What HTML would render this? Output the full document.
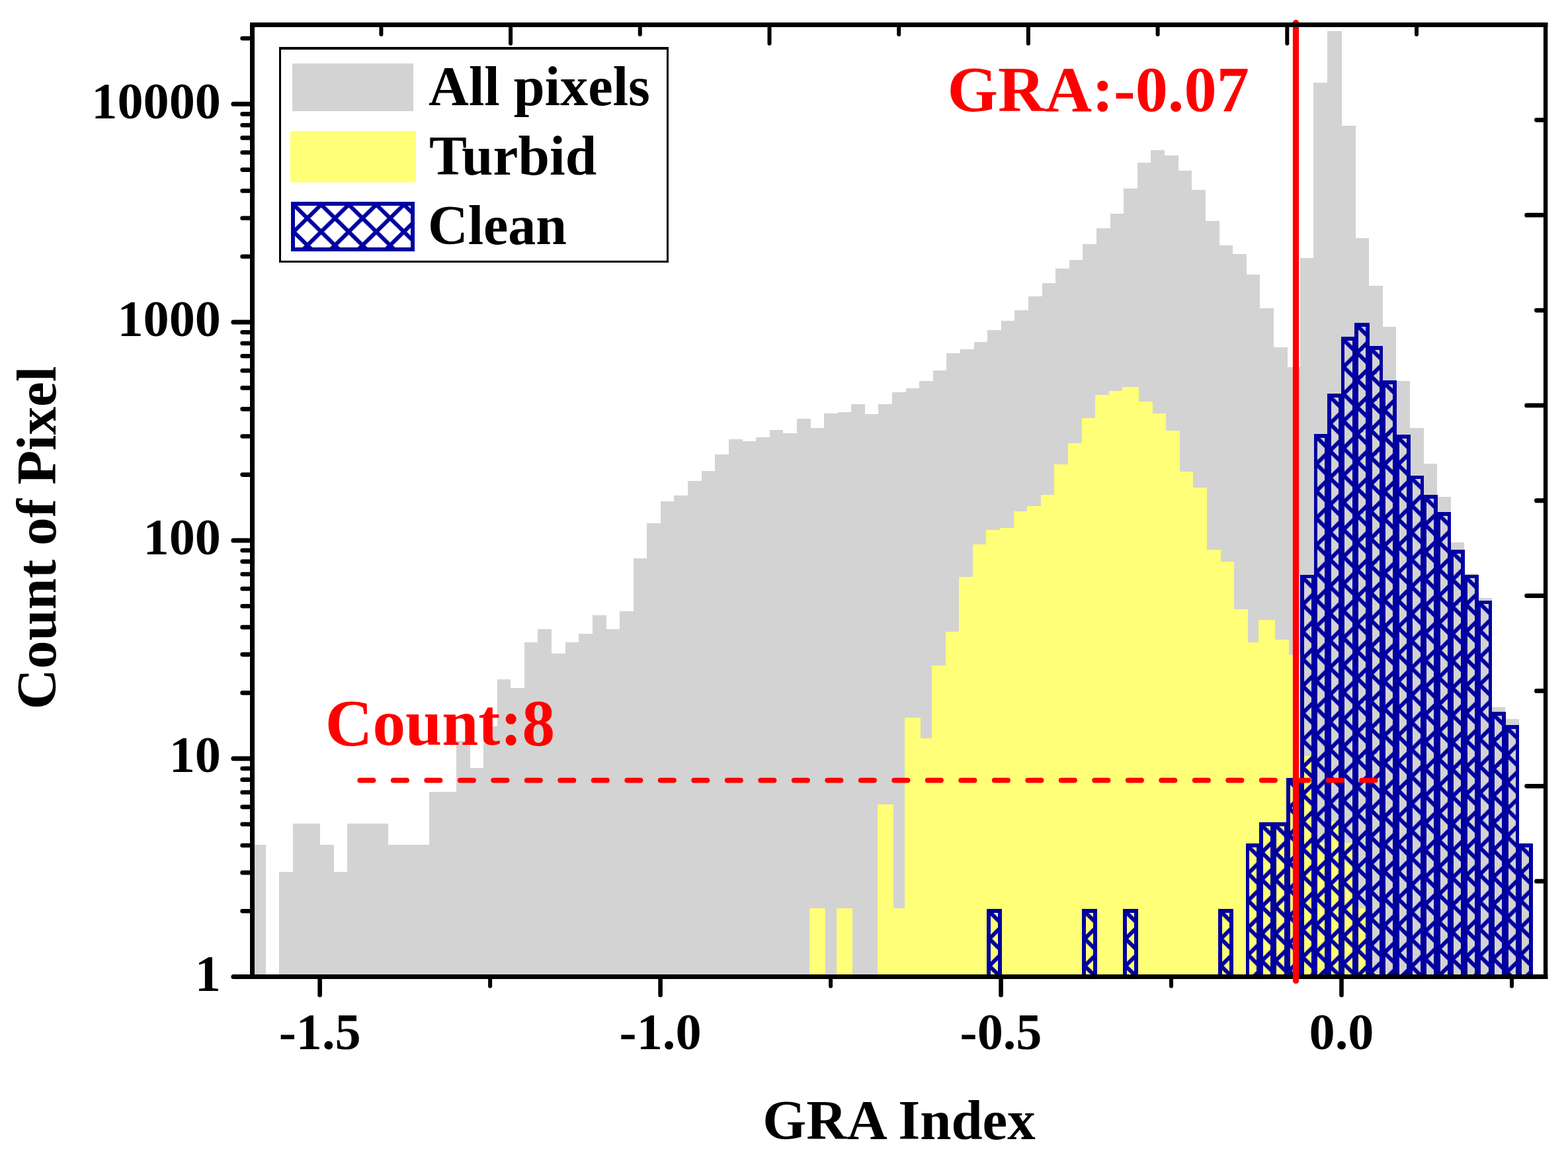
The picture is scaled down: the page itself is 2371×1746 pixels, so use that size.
<!DOCTYPE html>
<html lang="en"><head><meta charset="utf-8"><title>GRA Index histogram</title>
<style>html,body{margin:0;padding:0;background:#fff}body{width:2371px;height:1746px;overflow:hidden}svg{display:block}text{font-family:"Liberation Serif",serif;font-weight:bold}</style></head><body>
<svg width="2371" height="1746" viewBox="0 0 2371 1746">
<defs><pattern id="hx" patternUnits="userSpaceOnUse" width="41.7" height="41"><g stroke="#0000a0" stroke-width="6" fill="none"><line x1="-41.7" y1="-122.5" x2="83.4" y2="0.5"/><line x1="-41.7" y1="-33" x2="83.4" y2="-156"/><line x1="-41.7" y1="-81.5" x2="83.4" y2="41.5"/><line x1="-41.7" y1="8" x2="83.4" y2="-115"/><line x1="-41.7" y1="-40.5" x2="83.4" y2="82.5"/><line x1="-41.7" y1="49" x2="83.4" y2="-74"/><line x1="-41.7" y1="0.5" x2="83.4" y2="123.5"/><line x1="-41.7" y1="90" x2="83.4" y2="-33"/><line x1="-41.7" y1="41.5" x2="83.4" y2="164.5"/><line x1="-41.7" y1="131" x2="83.4" y2="8"/></g></pattern></defs>
<rect width="2371" height="1746" fill="#fff"/>
<path d="M380.7 1476.5V1277.04H401.6V1476.5ZM421.9 1476.5V1318.25H442.8V1476.5ZM442.5 1476.5V1245.08H463.4V1476.5ZM463.1 1476.5V1245.08H484V1476.5ZM483.7 1476.5V1277.04H504.6V1476.5ZM504.3 1476.5V1318.25H525.2V1476.5ZM524.9 1476.5V1245.08H545.8V1476.5ZM545.5 1476.5V1245.08H566.4V1476.5ZM566.1 1476.5V1245.08H587V1476.5ZM586.7 1476.5V1277.04H607.6V1476.5ZM607.3 1476.5V1277.04H628.2V1476.5ZM627.9 1476.5V1277.04H648.8V1476.5ZM648.5 1476.5V1196.89H669.4V1476.5ZM669.1 1476.5V1196.89H690V1476.5ZM689.7 1476.5V1119.69H710.6V1476.5ZM710.3 1476.5V1160.89H731.2V1476.5ZM730.9 1476.5V1097.61H751.8V1476.5ZM751.5 1476.5V1026.5H772.4V1476.5ZM772.1 1476.5V1039.53H793V1476.5ZM792.7 1476.5V970.52H813.6V1476.5ZM813.3 1476.5V950.87H834.2V1476.5ZM833.9 1476.5V988.45H854.8V1476.5ZM854.5 1476.5V970.52H875.4V1476.5ZM875.1 1476.5V958.41H896V1476.5ZM895.7 1476.5V930.37H916.6V1476.5ZM916.3 1476.5V950.87H937.2V1476.5ZM936.9 1476.5V924.14H957.8V1476.5ZM957.5 1476.5V844.42H978.4V1476.5ZM978.1 1476.5V791.08H999V1476.5ZM998.7 1476.5V757.93H1019.6V1476.5ZM1019.3 1476.5V748.68H1040.2V1476.5ZM1039.9 1476.5V727.11H1060.8V1476.5ZM1060.5 1476.5V711.79H1081.4V1476.5ZM1081.1 1476.5V687.07H1102V1476.5ZM1101.7 1476.5V664.2H1122.6V1476.5ZM1122.3 1476.5V667.2H1143.2V1476.5ZM1142.9 1476.5V661H1163.8V1476.5ZM1163.5 1476.5V650.1H1184.4V1476.5ZM1184.1 1476.5V654.9H1205V1476.5ZM1204.7 1476.5V632.9H1225.6V1476.5ZM1225.3 1476.5V646.8H1246.2V1476.5ZM1245.9 1476.5V624.9H1266.8V1476.5ZM1266.5 1476.5V623.3H1287.4V1476.5ZM1287.1 1476.5V611H1308V1476.5ZM1307.7 1476.5V626H1328.6V1476.5ZM1328.3 1476.5V611H1349.2V1476.5ZM1348.9 1476.5V593.1H1369.8V1476.5ZM1369.5 1476.5V587H1390.4V1476.5ZM1390.1 1476.5V576H1411V1476.5ZM1410.7 1476.5V559.9H1431.6V1476.5ZM1431.3 1476.5V534H1452.2V1476.5ZM1451.9 1476.5V527.9H1472.8V1476.5ZM1472.5 1476.5V517.2H1493.4V1476.5ZM1493.1 1476.5V499H1514V1476.5ZM1513.7 1476.5V484.8H1534.6V1476.5ZM1534.3 1476.5V469H1555.2V1476.5ZM1554.9 1476.5V447.9H1575.8V1476.5ZM1575.5 1476.5V428.1H1596.4V1476.5ZM1596.1 1476.5V405.9H1617V1476.5ZM1616.7 1476.5V392.8H1637.6V1476.5ZM1637.3 1476.5V369H1658.2V1476.5ZM1657.9 1476.5V345.2H1678.8V1476.5ZM1678.5 1476.5V323H1699.4V1476.5ZM1699.1 1476.5V285H1720V1476.5ZM1719.7 1476.5V246H1740.6V1476.5ZM1740.3 1476.5V227H1761.2V1476.5ZM1760.9 1476.5V235H1781.8V1476.5ZM1781.5 1476.5V258H1802.4V1476.5ZM1802.1 1476.5V286.9H1823V1476.5ZM1822.7 1476.5V334H1843.6V1476.5ZM1843.3 1476.5V371.1H1864.2V1476.5ZM1863.9 1476.5V384H1884.8V1476.5ZM1884.5 1476.5V415H1905.4V1476.5ZM1905.1 1476.5V466H1926V1476.5ZM1925.7 1476.5V525.1H1946.6V1476.5ZM1946.3 1476.5V555.1H1966.1V1476.5ZM1965.8 1476.5V390.1H1986.4V1476.5ZM1986.1 1476.5V125H2007.4V1476.5ZM2007.1 1476.5V46.8H2029V1476.5ZM2028.7 1476.5V189.8H2049.6V1476.5ZM2049.3 1476.5V360.2H2070.2V1476.5ZM2069.9 1476.5V432.1H2090.8V1476.5ZM2090.5 1476.5V494.1H2111.4V1476.5ZM2111.1 1476.5V576H2132V1476.5ZM2131.7 1476.5V647H2152.6V1476.5ZM2152.3 1476.5V701.1H2173.2V1476.5ZM2172.9 1476.5V750.9H2193.8V1476.5ZM2193.5 1476.5V820.1H2214.4V1476.5ZM2214.1 1476.5V867.1H2235V1476.5ZM2234.7 1476.5V904.2H2255.6V1476.5ZM2255.3 1476.5V1069.1H2276.2V1476.5ZM2275.9 1476.5V1087.1H2296.8V1476.5ZM2296.5 1476.5V1277.04H2317.4V1476.5Z" fill="#d3d3d3" shape-rendering="crispEdges"/>
<path d="M1223.5 1476.5V1373.12H1248.2V1476.5ZM1264.7 1476.5V1373.12H1289.4V1476.5ZM1326.5 1476.5V1215.77H1351.2V1476.5ZM1347.1 1476.5V1373.12H1371.8V1476.5ZM1367.7 1476.5V1084.53H1392.4V1476.5ZM1388.3 1476.5V1116.49H1413V1476.5ZM1408.9 1476.5V1005.74H1433.6V1476.5ZM1429.5 1476.5V955.21H1454.2V1476.5ZM1450.1 1476.5V872H1474.8V1476.5ZM1470.7 1476.5V823.1H1495.4V1476.5ZM1491.3 1476.5V801.2H1516V1476.5ZM1511.9 1476.5V798H1536.6V1476.5ZM1532.5 1476.5V773.1H1557.2V1476.5ZM1553.1 1476.5V765.1H1577.8V1476.5ZM1573.7 1476.5V748.2H1598.4V1476.5ZM1594.3 1476.5V702H1619V1476.5ZM1614.9 1476.5V669.9H1639.6V1476.5ZM1635.5 1476.5V631.9H1660.2V1476.5ZM1656.1 1476.5V597.2H1680.8V1476.5ZM1676.7 1476.5V591H1701.4V1476.5ZM1697.3 1476.5V584.9H1722V1476.5ZM1717.9 1476.5V607.1H1742.6V1476.5ZM1738.5 1476.5V625H1763.2V1476.5ZM1759.1 1476.5V651.2H1783.8V1476.5ZM1779.7 1476.5V712.9H1804.4V1476.5ZM1800.3 1476.5V737H1825V1476.5ZM1820.9 1476.5V831.1H1845.6V1476.5ZM1841.5 1476.5V849H1866.2V1476.5ZM1862.1 1476.5V921.2H1886.8V1476.5ZM1882.7 1476.5V971H1907.4V1476.5ZM1903.3 1476.5V937H1928V1476.5ZM1923.9 1476.5V967H1948.6V1476.5ZM1944.5 1476.5V990H1969.2V1476.5ZM1965.1 1476.5V1142.6H1989.8V1476.5ZM1985.7 1476.5V1273.84H2010.4V1476.5ZM2006.3 1476.5V1241.88H2031V1476.5ZM2026.9 1476.5V1273.84H2051.6V1476.5ZM2047.5 1476.5V1373.12H2072.2V1476.5Z" fill="#ffff78" shape-rendering="crispEdges"/>
<g fill="url(#hx)" stroke="#0000a0" stroke-width="5.7" shape-rendering="crispEdges">
<rect transform="translate(1492.1,1373.85)" x="2.85" y="2.85" width="16.9" height="99.8"/>
<rect transform="translate(1636.3,1373.85)" x="2.85" y="2.85" width="16.9" height="99.8"/>
<rect transform="translate(1698.1,1373.85)" x="2.85" y="2.85" width="16.9" height="99.8"/>
<rect transform="translate(1842.3,1373.85)" x="2.85" y="2.85" width="16.9" height="99.8"/>
<rect transform="translate(1883.5,1275.2)" x="2.85" y="2.85" width="16.9" height="198.45"/>
<rect transform="translate(1904.1,1243.4)" x="2.85" y="2.85" width="16.9" height="230.25"/>
<rect transform="translate(1924.7,1243.4)" x="2.85" y="2.85" width="16.9" height="230.25"/>
<rect transform="translate(1945.3,1176.2)" x="2.85" y="2.85" width="16.9" height="297.45"/>
<rect transform="translate(1965.9,868.8)" x="2.85" y="2.85" width="16.9" height="604.85"/>
<rect transform="translate(1986.5,656.2)" x="2.85" y="2.85" width="16.9" height="817.45"/>
<rect transform="translate(2007.1,595.3)" x="2.85" y="2.85" width="16.9" height="878.35"/>
<rect transform="translate(2027.7,509.4)" x="2.85" y="2.85" width="16.9" height="964.25"/>
<rect transform="translate(2048.3,488)" x="2.85" y="2.85" width="16.9" height="985.65"/>
<rect transform="translate(2068.9,523)" x="2.85" y="2.85" width="16.9" height="950.65"/>
<rect transform="translate(2089.5,575)" x="2.85" y="2.85" width="16.9" height="898.65"/>
<rect transform="translate(2110.1,657.2)" x="2.85" y="2.85" width="16.9" height="816.45"/>
<rect transform="translate(2130.7,718.8)" x="2.85" y="2.85" width="16.9" height="754.85"/>
<rect transform="translate(2151.3,748.1)" x="2.85" y="2.85" width="16.9" height="725.55"/>
<rect transform="translate(2171.9,774.1)" x="2.85" y="2.85" width="16.9" height="699.55"/>
<rect transform="translate(2192.5,831)" x="2.85" y="2.85" width="16.9" height="642.65"/>
<rect transform="translate(2213.1,868.8)" x="2.85" y="2.85" width="16.9" height="604.85"/>
<rect transform="translate(2233.7,907.8)" x="2.85" y="2.85" width="16.9" height="565.85"/>
<rect transform="translate(2254.3,1076)" x="2.85" y="2.85" width="16.9" height="397.65"/>
<rect transform="translate(2274.9,1096.3)" x="2.85" y="2.85" width="16.9" height="377.35"/>
<rect transform="translate(2295.5,1275.2)" x="2.85" y="2.85" width="16.9" height="198.45"/>
</g>
<g stroke="#000" fill="none" stroke-linecap="round">
<path d="M381.5 34V1480M378 1476.5H2340.3" stroke-width="7" stroke-linecap="butt"/>
<path d="M377 1476.5H352.9M377 1146.7H352.9M377 816.9H352.9M377 487.1H352.9M377 157.3H352.9" stroke-width="7"/>
<path d="M377 1377.22H366.6M377 1319.15H366.6M377 1277.94H366.6M377 1245.98H366.6M377 1219.87H366.6M377 1197.79H366.6M377 1178.66H366.6M377 1161.79H366.6M377 1047.42H366.6M377 989.35H366.6M377 948.14H366.6M377 916.18H366.6M377 890.07H366.6M377 867.99H366.6M377 848.86H366.6M377 831.99H366.6M377 717.62H366.6M377 659.55H366.6M377 618.34H366.6M377 586.38H366.6M377 560.27H366.6M377 538.19H366.6M377 519.06H366.6M377 502.19H366.6M377 387.82H366.6M377 329.75H366.6M377 288.54H366.6M377 256.58H366.6M377 230.47H366.6M377 208.39H366.6M377 189.26H366.6M377 172.39H366.6M377 58.02H366.6" stroke-width="6.6"/>
<path d="M483.65 1479V1504.3M998.6 1479V1504.3M1513.55 1479V1504.3M2028.5 1479V1504.3" stroke-width="6.6"/>
<path d="M741.12 1479V1490.8M1256.07 1479V1490.8M1771.03 1479V1490.8M2285.97 1479V1490.8" stroke-width="6"/>
</g>
<path d="M540.3 1179.6H2083" stroke="#ff0000" stroke-width="7.8" stroke-linecap="round" stroke-dasharray="20.3 30.2" stroke-dashoffset="-3.9" fill="none"/>
<path d="M1959.5 34.5V1482.5" stroke="#ff0000" stroke-width="9.2" stroke-linecap="round" fill="none"/>
<g stroke="#000" fill="none" stroke-linecap="round">
<path d="M378 37.5H2340.3" stroke-width="7" stroke-linecap="butt"/><path d="M2337.1 34V1480" stroke-width="6.4" stroke-linecap="butt"/>
<path d="M772.1 42V65.8M1163.5 42V65.8M1554.9 42V65.8M1946.3 42V65.8M576.4 42V51.9M967.8 42V51.9M1359.2 42V51.9M1750.6 42V51.9M2142 42V51.9" stroke-width="6"/>
<path d="M2335 325.2H2308.6M2335 612.9H2308.6M2335 900.6H2308.6M2335 1188.3H2308.6M2335 181.35H2323.4M2335 469.05H2323.4M2335 756.75H2323.4M2335 1044.45H2323.4M2335 1332.15H2323.4" stroke-width="6.8"/>
</g>
<g font-size="78.3" fill="#000">
<text id="yl0" x="334" y="1497.6" text-anchor="end">1</text>
<text id="yl1" x="334" y="1166.9" text-anchor="end">10</text>
<text id="yl2" x="334" y="837.7" text-anchor="end">100</text>
<text id="yl3" x="334" y="508.4" text-anchor="end">1000</text>
<text id="yl4" x="334" y="179.3" text-anchor="end">10000</text>
<text id="xl0" x="483.65" y="1585.7" text-anchor="middle">-1.5</text>
<text id="xl1" x="998.6" y="1585.7" text-anchor="middle">-1.0</text>
<text id="xl2" x="1513.55" y="1585.7" text-anchor="middle">-0.5</text>
<text id="xl3" x="2028.5" y="1585.7" text-anchor="middle">0.0</text>
</g>
<text id="xt" x="1359.5" y="1721.5" font-size="84.8" text-anchor="middle">GRA Index</text>
<text id="yt" transform="translate(83.6,813) rotate(-90)" font-size="84.9" text-anchor="middle">Count of Pixel</text>
<text id="t1" x="1432.5" y="168" font-size="98.4" fill="#ff0000">GRA:-0.07</text>
<text id="t2" x="491.8" y="1126.4" font-size="99.2" fill="#ff0000">Count:8</text>
<rect x="423.75" y="73" width="585.6" height="322.8" fill="#fff" stroke="#000" stroke-width="3.3" shape-rendering="crispEdges"/>
<rect x="442" y="96" width="182.8" height="71.8" fill="#d3d3d3" shape-rendering="crispEdges"/>
<rect x="439" y="197.9" width="190" height="77.9" rx="2.5" fill="#ffff78"/>
<rect transform="translate(440.1,305.1)" x="2.85" y="2.85" width="181" height="69" fill="url(#hx)" stroke="#0000a0" stroke-width="5.7" shape-rendering="crispEdges"/>
<g fill="#000"><text id="l1" x="648" y="159.2" font-size="84.3">All pixels</text><text id="l2" x="649" y="263.7" font-size="85.4">Turbid</text><text id="l3" x="647" y="368.6" font-size="84">Clean</text></g>
</svg></body></html>
